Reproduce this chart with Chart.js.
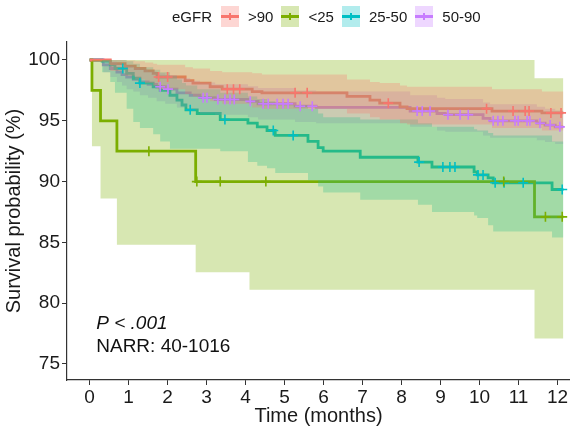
<!DOCTYPE html>
<html>
<head>
<meta charset="utf-8">
<script src="https://cdn.jsdelivr.net/npm/chart.js@4.4.1/dist/chart.umd.min.js"></script>
<style>
  body { margin: 0; background: #fff; }
  #wrap { position: relative; width: 570px; height: 430px; }
  #legend { position: absolute; top: 6px; left: 172px; height: 21px; display: flex; align-items: center;
            font: 15px "Liberation Sans", Arial, sans-serif; color: #1a1a1a; white-space: nowrap; }
  .key { position: relative; width: 18px; height: 21px; margin-left: 8px; }
  .key .ln { position: absolute; left: 0; right: 0; top: 9px; height: 2.5px; }
  .key .tk { position: absolute; left: 8px; top: 7px; width: 1.6px; height: 7px; }
  .lab { margin-left: 9px; }
</style>
</head>
<body>
<div id="wrap">
  <canvas id="kmChart" width="570" height="430"></canvas>
  <div id="legend"><span>eGFR</span></div>
</div>
<script>
// eGFR groups (legend order)
const groupLabels = ['>90', '<25', '25-50', '50-90'];
const groupColors = ['#F8766D', '#7CAE00', '#00BFC4', '#C77CFF'];
const groupRgb = ['248,118,109', '124,174,0', '0,191,196', '199,124,255'];

const monthTicks = [0, 1, 2, 3, 4, 5, 6, 7, 8, 9, 10, 11, 12];
const survTicks = [75, 80, 85, 90, 95, 100];

// >90
const gt90Times = [0, 0.53, 0.91, 1.17, 1.42, 1.63, 1.73, 2.45, 2.65, 3.09, 3.40, 4.17, 4.42, 6.60, 7.19, 7.44, 7.96, 8.14, 10.32, 11.60, 12.15];
const gt90Surv  = [100, 99.7, 99.5, 99.3, 99.1, 98.9, 98.6, 98.3, 98.1, 97.8, 97.6, 97.4, 97.3, 97.0, 96.7, 96.45, 96.15, 96.0, 95.8, 95.65, 95.65];
const gt90Upper = [100, 100, 99.95, 99.9, 99.8, 99.7, 99.6, 99.4, 99.3, 99.1, 99.0, 98.9, 98.8, 98.4, 98.2, 98.1, 97.9, 97.8, 97.6, 97.4, 97.4];
const gt90Lower = [100, 99.1, 98.7, 98.4, 98.1, 97.9, 97.6, 97.2, 97.0, 96.6, 96.4, 96.1, 96.0, 95.6, 95.3, 95.1, 94.8, 94.7, 94.4, 94.2, 94.2];
const gt90Censor = [1.77, 2.0, 3.53, 3.69, 3.85, 5.27, 5.58, 7.66, 10.18, 10.86, 11.17, 11.27, 11.83, 12.09];

// <25
const lt25Times = [0, 0.06, 0.28, 0.70, 2.72, 4.10, 11.41, 12.15];
const lt25Surv  = [100, 97.5, 95.0, 92.5, 90.0, 90.0, 87.1, 87.1];
const lt25Upper = [100, 100, 100, 100, 100, 100, 98.5, 98.5];
const lt25Lower = [100, 92.9, 88.6, 84.8, 82.55, 81.1, 77.1, 77.1];
const lt25Censor = [1.52, 2.75, 3.35, 4.52, 10.62, 11.69, 12.12];

// 25-50
const mid1Times = [0, 0.32, 0.53, 0.65, 0.95, 1.12, 1.29, 1.63, 1.81, 2.06, 2.24, 2.37, 2.47, 2.76, 3.35, 4.06, 4.30, 4.55, 4.76, 5.60, 5.86, 5.99, 6.94, 8.42, 8.78, 9.86, 9.94, 10.22, 10.35, 11.86, 12.15];
const mid1Surv  = [100, 99.9, 99.6, 99.3, 98.9, 98.5, 98.1, 97.8, 97.5, 97.1, 96.7, 96.3, 95.9, 95.6, 95.1, 94.8, 94.5, 94.2, 93.8, 93.3, 92.8, 92.5, 92.0, 91.6, 91.2, 90.8, 90.55, 90.3, 89.9, 89.35, 89.35];
const mid1Upper = [100, 100, 100, 100, 99.9, 99.7, 99.4, 99.2, 99.0, 98.7, 98.4, 98.1, 97.9, 97.6, 97.3, 97.0, 96.8, 96.6, 96.3, 96.0, 95.6, 95.3, 95.1, 94.8, 94.5, 94.3, 94.2, 94.0, 93.8, 93.3, 93.3];
const mid1Lower = [100, 99.0, 98.2, 97.3, 96.0, 94.9, 94.4, 93.9, 93.3, 92.7, 92.7, 92.7, 92.7, 92.7, 92.5, 91.6, 91.3, 91.1, 90.7, 90.1, 89.6, 89.1, 88.5, 88.1, 87.5, 87.2, 87.0, 86.4, 85.9, 85.4, 85.4];
const mid1Censor = [0.85, 1.29, 2.58, 3.47, 4.71, 5.22, 8.45, 9.06, 9.24, 9.37, 9.96, 10.09, 10.4, 10.63, 11.12, 12.12];

// 50-90
const mid2Times = [0, 0.35, 0.53, 0.70, 0.83, 0.95, 1.12, 1.29, 1.50, 1.72, 1.94, 2.24, 2.58, 2.83, 3.22, 4.06, 4.32, 5.27, 5.81, 8.22, 8.91, 9.12, 10.09, 10.27, 11.47, 11.68, 11.94, 12.15];
const mid2Surv  = [100, 99.6, 99.3, 99.0, 98.8, 98.6, 98.4, 98.2, 98.0, 97.8, 97.6, 97.3, 97.1, 96.9, 96.75, 96.6, 96.4, 96.2, 96.1, 95.8, 95.6, 95.5, 95.2, 95.0, 94.8, 94.65, 94.5, 94.5];
const mid2Upper = [100, 99.95, 99.85, 99.7, 99.6, 99.5, 99.35, 99.2, 99.05, 98.9, 98.75, 98.5, 98.3, 98.15, 98.0, 97.85, 97.7, 97.5, 97.4, 97.1, 96.9, 96.8, 96.5, 96.35, 96.15, 96.0, 95.85, 95.85];
const mid2Lower = [100, 99.0, 98.6, 98.2, 97.9, 97.6, 97.4, 97.1, 96.9, 96.6, 96.4, 96.1, 95.9, 95.6, 95.5, 95.3, 95.1, 94.9, 94.8, 94.5, 94.2, 94.1, 93.8, 93.6, 93.4, 93.25, 93.1, 93.1];
const mid2Censor = [1.81, 2.01, 2.91, 3.01, 3.29, 3.47, 3.6, 3.71, 4.12, 4.45, 4.58, 4.81, 4.96, 5.09, 5.4, 5.71, 8.4, 8.53, 8.73, 9.19, 9.5, 9.71, 10.35, 10.47, 10.6, 10.91, 10.99, 11.22, 11.29, 11.55, 11.81, 12.06];

const groups = [
  { times: gt90Times, surv: gt90Surv, upper: gt90Upper, lower: gt90Lower, censor: gt90Censor },
  { times: lt25Times, surv: lt25Surv, upper: lt25Upper, lower: lt25Lower, censor: lt25Censor },
  { times: mid1Times, surv: mid1Surv, upper: mid1Upper, lower: mid1Lower, censor: mid1Censor },
  { times: mid2Times, surv: mid2Surv, upper: mid2Upper, lower: mid2Lower, censor: mid2Censor }
];

// value of the step curve at time t
function survAt(times, surv, t) {
  let v = surv[0];
  for (let i = 0; i < times.length; i++) {
    if (times[i] <= t) v = surv[i];
  }
  return v;
}

const FONT = '"Liberation Sans", Arial, sans-serif';
Chart.defaults.font.family = FONT;

const datasets = [];
groups.forEach((g, k) => {
  // survival line, under the ribbons
  datasets.push({
    label: groupLabels[k],
    data: g.times.map((t, i) => ({ x: t, y: g.surv[i] })),
    borderColor: groupColors[k],
    borderWidth: 2.8,
    stepped: 'before',
    pointRadius: 0,
    fill: false,
    order: 3
  });
});
groups.forEach((g, k) => {
  // confidence band: upper edge then lower edge filled to it
  datasets.push({
    data: g.times.map((t, i) => ({ x: t, y: g.upper[i] })),
    borderColor: 'rgba(0,0,0,0)',
    borderWidth: 0,
    stepped: 'before',
    pointRadius: 0,
    fill: false,
    order: 2
  });
  datasets.push({
    data: g.times.map((t, i) => ({ x: t, y: g.lower[i] })),
    borderColor: 'rgba(0,0,0,0)',
    borderWidth: 0,
    backgroundColor: 'rgba(' + groupRgb[k] + ',0.3)',
    stepped: 'before',
    pointRadius: 0,
    fill: '-1',
    order: 2
  });
});
groups.forEach((g, k) => {
  // censoring marks
  datasets.push({
    type: 'scatter',
    data: g.censor.map(t => ({ x: t, y: survAt(g.times, g.surv, t) })),
    pointStyle: 'cross',
    pointRadius: 5,
    pointBorderWidth: 1.6,
    pointBorderColor: groupColors[k],
    showLine: false,
    order: 1
  });
});

const notePlugin = {
  id: 'notes',
  afterDatasetsDraw(chart) {
    const { ctx, scales: { x, y } } = chart;
    ctx.save();
    ctx.fillStyle = '#111';
    ctx.textBaseline = 'middle';
    ctx.textAlign = 'left';
    ctx.font = 'italic 19px ' + FONT;
    ctx.fillText('P < .001', x.getPixelForValue(0.17), y.getPixelForValue(78.35));
    ctx.font = '19px ' + FONT;
    ctx.fillText('NARR: 40-1016', x.getPixelForValue(0.17), y.getPixelForValue(76.38));
    ctx.restore();
  }
};

const axisColor = '#333';
const tickFont = { size: 19, family: FONT };

new Chart(document.getElementById('kmChart').getContext('2d'), {
  type: 'line',
  data: { datasets: datasets },
  options: {
    responsive: false,
    animation: false,
    events: [],
    layout: { autoPadding: false, padding: { top: 42, left: 0, right: 0, bottom: 0 } },
    plugins: {
      legend: { display: false },
      tooltip: { enabled: false }
    },
    scales: {
      x: {
        type: 'linear',
        min: -0.58,
        max: 12.32,
        afterBuildTicks: s => { s.ticks = monthTicks.map(v => ({ value: v })); },
        afterFit: s => { s.height = 50; s.paddingLeft = 0; s.paddingRight = 0; },
        grid: { drawOnChartArea: false, tickLength: 5, color: axisColor, lineWidth: 1 },
        border: { color: axisColor, width: 1.2 },
        ticks: { font: tickFont, color: '#1a1a1a', padding: 1, autoSkip: false, maxRotation: 0 },
        title: { display: true, text: 'Time (months)', font: { size: 20, family: FONT }, color: '#1a1a1a', padding: { top: 0, bottom: 2 } }
      },
      y: {
        type: 'linear',
        min: 73.68,
        max: 101.48,
        afterBuildTicks: s => { s.ticks = survTicks.map(v => ({ value: v })); },
        afterFit: s => { s.width = 67; s.paddingTop = 0; s.paddingBottom = 0; },
        grid: { drawOnChartArea: false, tickLength: 5, color: axisColor, lineWidth: 1 },
        border: { color: axisColor, width: 1.2 },
        ticks: { font: tickFont, color: '#1a1a1a', padding: 2 },
        title: { display: true, text: 'Survival probability (%)', font: { size: 20, family: FONT }, color: '#1a1a1a', padding: { top: 2, bottom: 0 } }
      }
    }
  },
  plugins: [notePlugin]
});

// legend row
const legend = document.getElementById('legend');
groupLabels.forEach((lab, k) => {
  const key = document.createElement('span');
  key.className = 'key';
  key.style.background = 'rgba(' + groupRgb[k] + ',0.3)';
  if (k === 0) key.style.marginLeft = '9px';
  const ln = document.createElement('span');
  ln.className = 'ln';
  ln.style.background = groupColors[k];
  const tk = document.createElement('span');
  tk.className = 'tk';
  tk.style.background = groupColors[k];
  key.appendChild(ln);
  key.appendChild(tk);
  const txt = document.createElement('span');
  txt.className = 'lab';
  txt.textContent = lab;
  legend.appendChild(key);
  legend.appendChild(txt);
});
</script>
</body>
</html>
